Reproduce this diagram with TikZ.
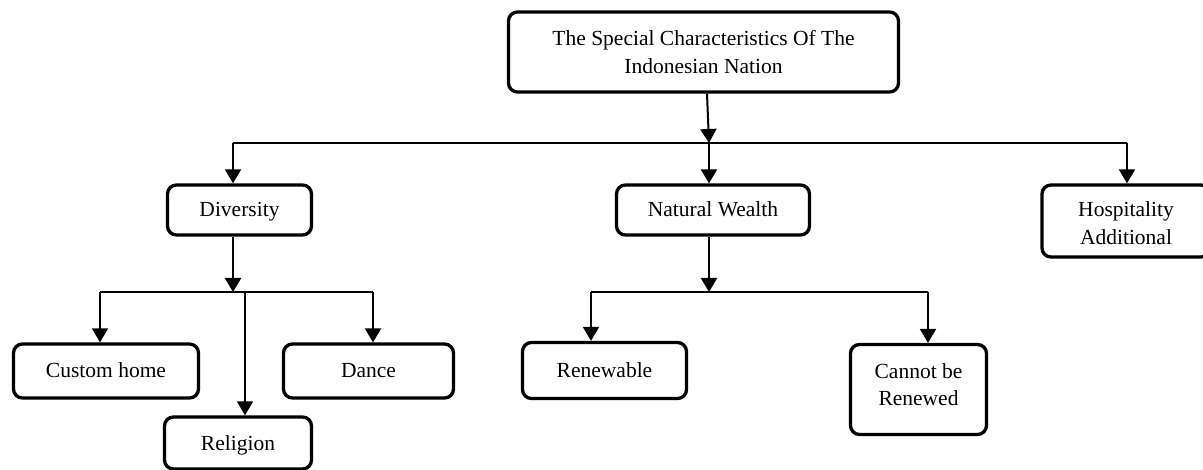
\documentclass[tikz,border=0pt]{standalone}
\usepackage{fontspec}
\setmainfont{Liberation Serif}
\usetikzlibrary{arrows.meta}
\newcommand\shiftedlines[2]{\raisebox{#1}[\height][\depth]{\begin{tabular}{@{}c@{}}#2\end{tabular}}}
\begin{document}
\begin{tikzpicture}[x=1pt,y=-1pt,
  box/.style={draw=black,line width=3.3pt,rounded corners=9pt,fill=white,align=center,inner sep=0pt,
    font=\fontsize{21.5}{27.5}\selectfont},
  oneline/.style={text height=17pt,text depth=3pt},
  arr/.style={line width=2pt,-{Triangle[width=16pt,length=14pt]}},
  bus/.style={line width=1.3pt}]
\useasboundingbox (0,0) rectangle (1203,470);
\clip (0,0) rectangle (1203,470);
% boxes
\node[box,minimum width=390pt,minimum height=80pt] (top) at (703.5,52) {\shiftedlines{-2pt}{The Special Characteristics Of The\\Indonesian Nation}};
\node[box,oneline,minimum width=144pt,minimum height=50pt] (div) at (239.5,210) {Diversity};
\node[box,oneline,minimum width=193pt,minimum height=50pt] (nat) at (713,210) {Natural Wealth};
\node[box,minimum width=168pt,minimum height=72pt] (hosp) at (1126,221) {\shiftedlines{-4pt}{Hospitality\\Additional}};
\node[box,oneline,minimum width=185pt,minimum height=54pt] (cust) at (106,371) {Custom home};
\node[box,oneline,minimum width=170pt,minimum height=54pt] (dance) at (368.5,371) {Dance};
\node[box,oneline,minimum width=147pt,minimum height=52pt] (rel) at (238,443) {Religion};
\node[box,oneline,minimum width=164pt,minimum height=56pt] (ren) at (604.5,370.5) {Renewable};
\node[box,minimum width=136pt,minimum height=90pt] (can) at (918.5,389.5) {\shiftedlines{3pt}{Cannot be\\Renewed}};
% junction coordinates
\coordinate (j0) at (709,143);
\coordinate (jL) at (233,143);
\coordinate (jR) at (1127,143);
\coordinate (j1) at (233,292);
\coordinate (b1L) at (100,292);
\coordinate (b1R) at (373,292);
\coordinate (b1M) at (245,292);
\coordinate (j2) at (709,292);
\coordinate (b2L) at (591,292);
\coordinate (b2R) at (928,292);
% level 1
\draw[arr] ([xshift=3.5pt]top.south) -- (j0);
\draw[bus] (jL) -- (jR);
\draw[arr] (jL) -- (jL |- div.north);
\draw[arr] (j0) -- (j0 |- nat.north);
\draw[arr] (jR) -- (jR |- hosp.north);
% diversity branch
\draw[arr] (div.south -| j1) -- (j1);
\draw[bus] (b1L) -- (b1R);
\draw[arr] (b1L) -- (b1L |- cust.north);
\draw[arr] (b1R) -- (b1R |- dance.north);
\draw[arr,line width=1.6pt] (b1M) -- (b1M |- rel.north);
% natural wealth branch
\draw[arr] (nat.south -| j2) -- (j2);
\draw[bus] (b2L) -- (b2R);
\draw[arr] (b2L) -- (b2L |- ren.north);
\draw[arr] (b2R) -- (b2R |- can.north);
\end{tikzpicture}
\end{document}
